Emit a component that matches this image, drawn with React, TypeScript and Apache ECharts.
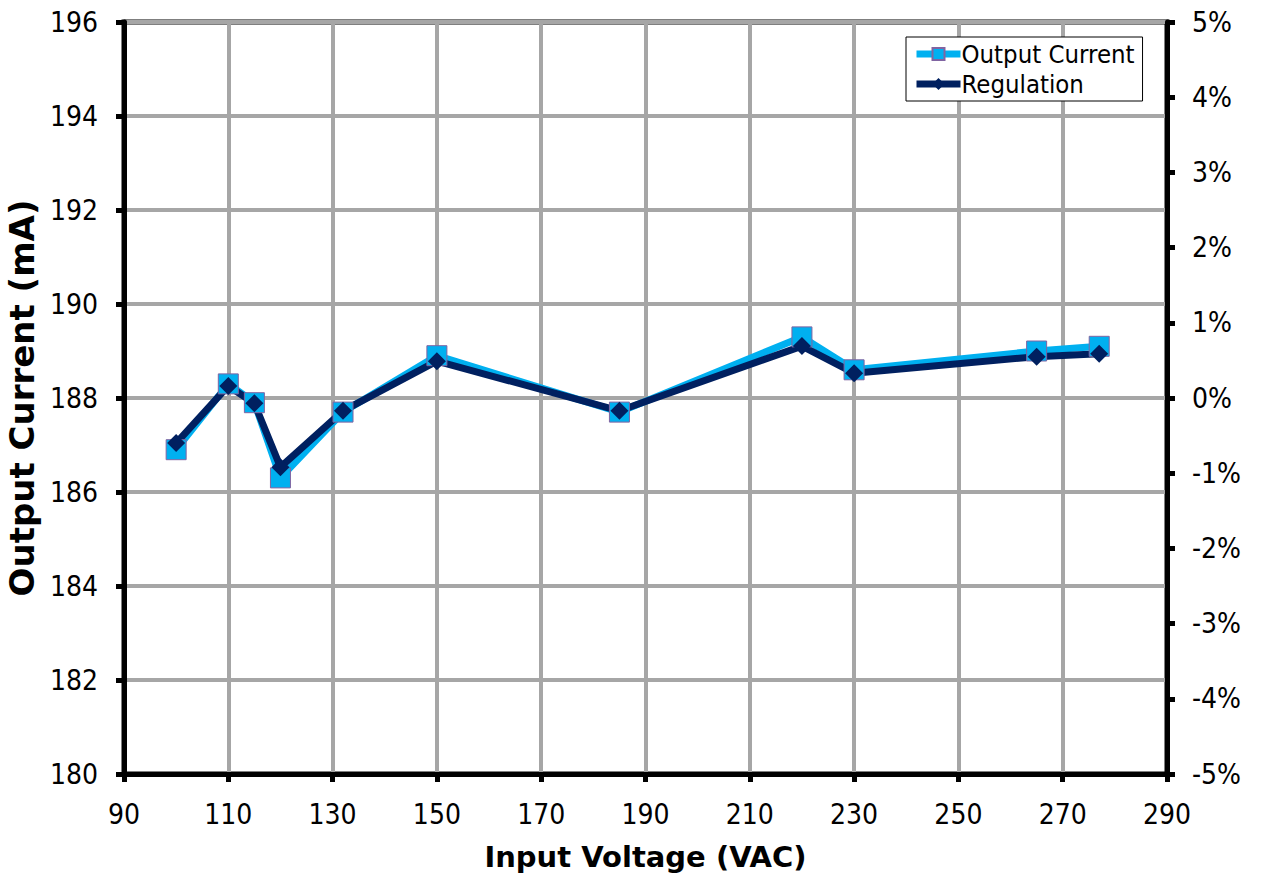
import React, { useEffect, useRef } from "react";
import * as echarts from "echarts";

const voltages = [100, 110, 115, 120, 132, 150, 185, 220, 230, 265, 277];
const outputCurrent = [186.9, 188.3, 187.9, 186.3, 187.7, 188.9, 187.7, 189.3, 188.6, 189.0, 189.1];
const regulation = [-0.6, 0.16, -0.07, -0.92, -0.17, 0.49, -0.17, 0.69, 0.33, 0.55, 0.59];

const FONT = "'DejaVu Sans Condensed', 'DejaVu Sans', sans-serif";
const TITLE_FONT = "'DejaVu Sans', sans-serif";

export default function App() {
  const ref = useRef<HTMLDivElement>(null);
  useEffect(() => {
    if (!ref.current) return;
    const chart = echarts.init(ref.current, undefined, { renderer: "svg" });
    const axisLine = { show: true, onZero: false, lineStyle: { color: "#000", width: 5 } };
    const axisTick = { show: true, length: 8, lineStyle: { color: "#000", width: 5 } };
    const label = { color: "#000", fontSize: 28, fontFamily: FONT };
    chart.setOption({
      animation: false,
      backgroundColor: "#fff",
      grid: {
        left: 124,
        right: 100,
        top: 22,
        bottom: 108,
        containLabel: false,
        outerBoundsMode: "none",
        show: true,
        borderColor: "#000",
        borderWidth: 5,
        backgroundColor: "transparent",
      },
      legend: {
        orient: "vertical",
        left: 906,
        top: 37,
        backgroundColor: "#fff",
        borderColor: "#000",
        borderWidth: 1,
        padding: [4, 8, 4, 7],
        itemGap: 4,
        itemWidth: 44,
        itemHeight: 15,
        lineStyle: { width: 7 },
        textStyle: { color: "#000", fontSize: 25.5, fontFamily: FONT, padding: [0, 0, 0, -4] },
        data: ["Output Current", "Regulation"],
      },
      xAxis: {
        type: "value",
        min: 90,
        max: 290,
        interval: 20,
        name: "Input Voltage (VAC)",
        nameLocation: "middle",
        nameGap: 68,
        nameTextStyle: { color: "#000", fontSize: 29, fontWeight: "bold", fontFamily: TITLE_FONT },
        axisLine,
        axisTick,
        axisLabel: { ...label, margin: 26 },
        splitLine: { show: true, lineStyle: { color: "#a6a6a6", width: 4 } },
      },
      yAxis: [
        {
          type: "value",
          min: 180,
          max: 196,
          interval: 2,
          name: "Output Current (mA)",
          nameLocation: "middle",
          nameGap: 78,
          nameTextStyle: { color: "#000", fontSize: 34, fontWeight: "bold", fontFamily: TITLE_FONT },
          axisLine,
          axisTick,
          axisLabel: { ...label, margin: 26 },
          splitLine: { show: true, lineStyle: { color: "#a6a6a6", width: 4 } },
        },
        {
          type: "value",
          min: -5,
          max: 5,
          interval: 1,
          position: "right",
          axisLine,
          axisTick,
          axisLabel: { ...label, margin: 25, formatter: (v: number) => `${v}%` },
          splitLine: { show: false },
        },
      ],
      series: [
        {
          name: "Output Current",
          type: "line",
          yAxisIndex: 0,
          data: voltages.map((v, i) => [v, outputCurrent[i]]),
          symbol: "rect",
          symbolSize: 20,
          lineStyle: { color: "#00b0f0", width: 7 },
          itemStyle: { color: "#00b0f0", borderColor: "#8064a2", borderWidth: 1 },
        },
        {
          name: "Regulation",
          type: "line",
          yAxisIndex: 1,
          data: voltages.map((v, i) => [v, regulation[i]]),
          symbol: "diamond",
          symbolSize: 18,
          lineStyle: { color: "#002060", width: 7 },
          itemStyle: { color: "#002060" },
        },
      ],
    });
    return () => chart.dispose();
  }, []);
  return (
    <div
      ref={ref}
      style={{ position: "fixed", left: 0, top: 0, width: 1267, height: 882, background: "#fff" }}
    />
  );
}
